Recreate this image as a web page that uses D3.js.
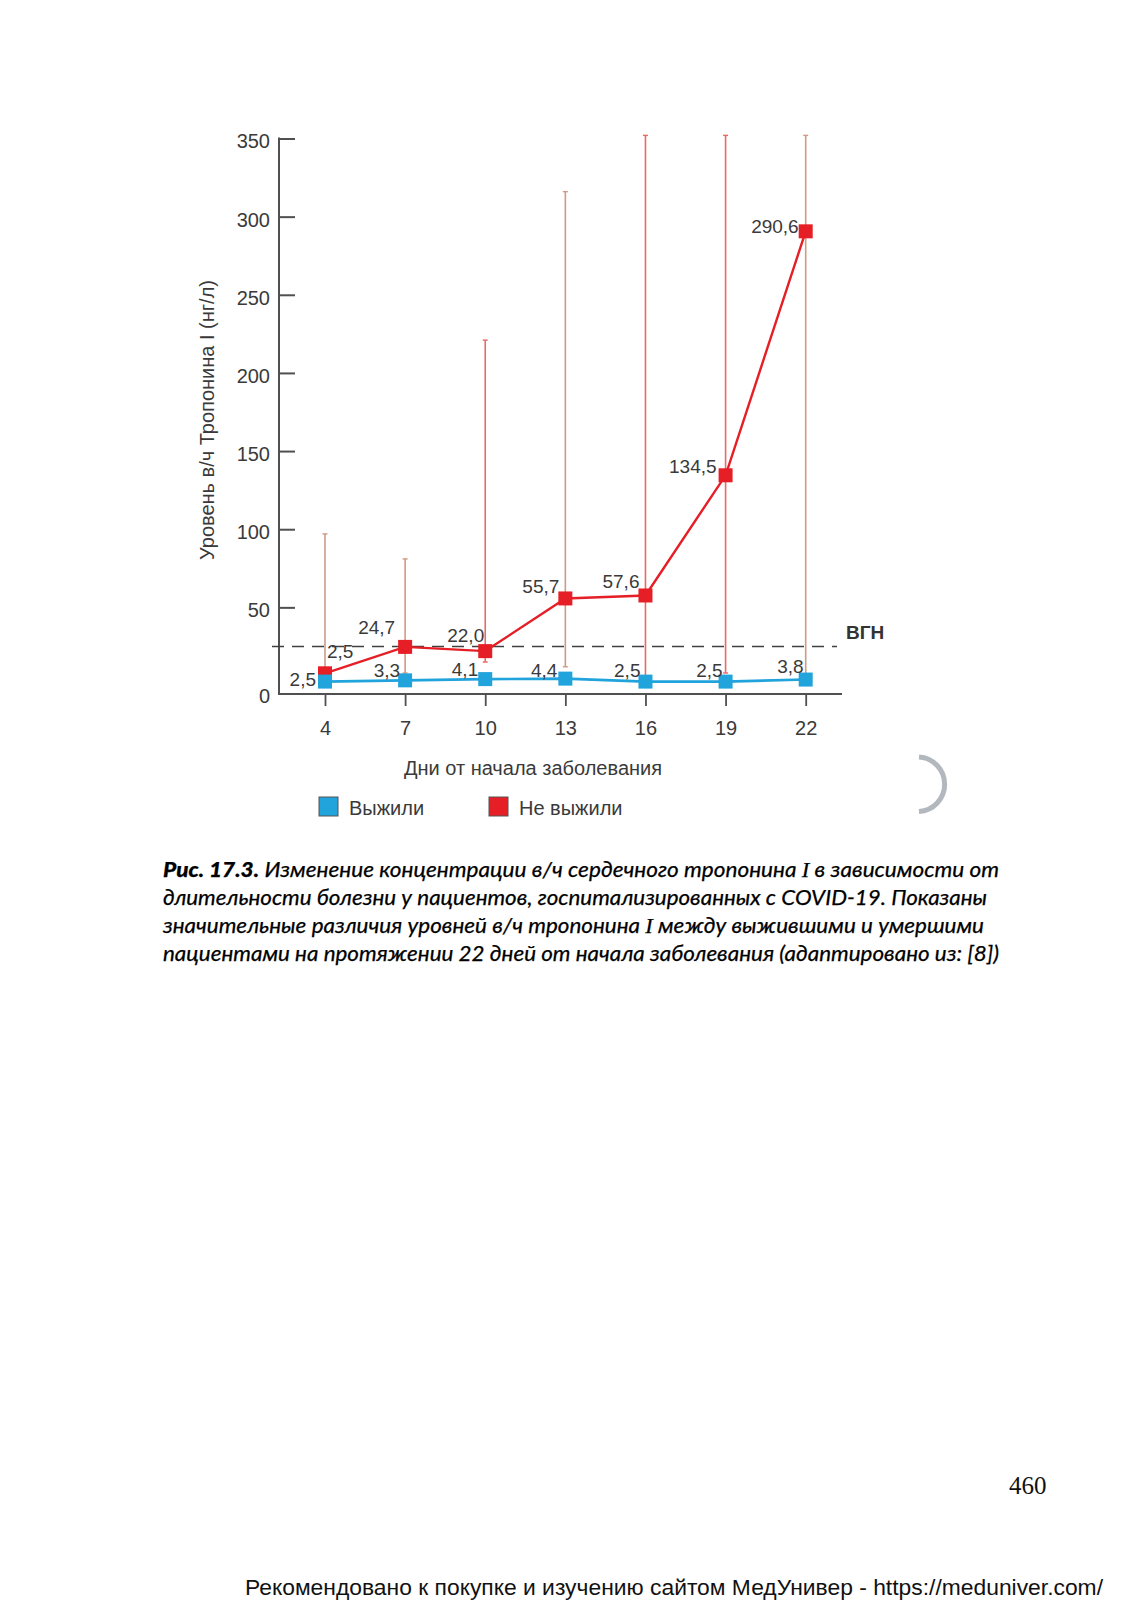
<!DOCTYPE html>
<html>
<head>
<meta charset="utf-8">
<script src="https://cdn.jsdelivr.net/npm/d3@7"></script>
<style>
  html, body { margin: 0; padding: 0; background: #ffffff; }
  svg { display: block; }
</style>
</head>
<body>
<svg id="chart" width="1132" height="1600"></svg>
<script>
// ---------------- DATA ----------------
const days = [4, 7, 10, 13, 16, 19, 22];
const survived = [2.5, 3.3, 4.1, 4.4, 2.5, 2.5, 3.8];
const died = [7.8, 24.7, 22.0, 55.7, 57.6, 134.5, 290.6];
const survivedLabels = ["2,5", "3,3", "4,1", "4,4", "2,5", "2,5", "3,8"];
const diedLabels = ["2,5", "24,7", "22,0", "55,7", "57,6", "134,5", "290,6"];
const diedErrLow = [7.8, 8, 15, 12, 5, 8, 5];
const diedErrHigh = [97, 81, 221, 316, 352, 352, 352];
const yTickValues = [0, 50, 100, 150, 200, 250, 300, 350];
const ulnValue = 25;
const ulnLabel = "ВГН";
const xTitle = "Дни от начала заболевания";
const yTitle = "Уровень в/ч Тропонина I (нг/л)";
const seriesNames = ["Выжили", "Не выжили"];

// ---------------- LAYOUT ----------------
const svg = d3.select("#chart");
svg.append("rect").attr("width", 1132).attr("height", 1600).attr("fill", "#fff");

const FONT = "'Liberation Sans', Arial, Helvetica, sans-serif";
const TXT = "#3a3a3a";
const AXIS = "#505050";
const RED = "#e61e25";
const BLUE = "#21a3dc";
const ERR_RED = "#e86a66";
const ERR_TAN = "#cf9a86";

const axisX0 = 279, axisXEnd = 842, axisLineY = 694;
const x = d3.scaleLinear().domain([4, 22]).range([325, 805.7]);
const y = d3.scaleLinear().domain([0, 350]).range([685.5, 138.5]);

const g = svg.append("g");

// error bars (behind)
const errColorIdx = [ERR_TAN, ERR_TAN, ERR_RED, ERR_TAN, ERR_RED, ERR_RED, ERR_TAN];
const eb = g.append("g");
days.forEach((d, i) => {
  eb.append("line")
    .attr("x1", x(d)).attr("x2", x(d))
    .attr("y1", y(diedErrLow[i])).attr("y2", y(diedErrHigh[i]))
    .attr("stroke", errColorIdx[i]).attr("stroke-width", 1.6);
  eb.append("line")
    .attr("x1", x(d) - 2.5).attr("x2", x(d) + 2.5)
    .attr("y1", y(diedErrHigh[i])).attr("y2", y(diedErrHigh[i]))
    .attr("stroke", errColorIdx[i]).attr("stroke-width", 1.4);
  eb.append("line")
    .attr("x1", x(d) - 2.5).attr("x2", x(d) + 2.5)
    .attr("y1", y(diedErrLow[i])).attr("y2", y(diedErrLow[i]))
    .attr("stroke", errColorIdx[i]).attr("stroke-width", 1.4);
});

// Y axis
const yAxis = d3.axisLeft(y).tickValues(yTickValues).tickSize(-16).tickPadding(9).tickSizeOuter(0);
const yg = g.append("g").attr("transform", `translate(${axisX0},0)`).call(yAxis);
yg.select(".domain").remove();
yg.selectAll(".tick line").attr("stroke", AXIS).attr("stroke-width", 2);
yg.selectAll(".tick text").attr("font-family", FONT).attr("font-size", 20).attr("fill", TXT).attr("y", 3);
yg.selectAll(".tick").filter(v => v === 0).each(function () {
  d3.select(this).select("line").remove();
  d3.select(this).select("text").attr("y", axisLineY - y(0) + 2);
});
g.append("line").attr("x1", axisX0).attr("x2", axisX0)
  .attr("y1", y(350) - 1).attr("y2", axisLineY + 1)
  .attr("stroke", AXIS).attr("stroke-width", 2);

// X axis
const xAxis = d3.axisBottom(x).tickValues(days).tickSize(12).tickPadding(15).tickSizeOuter(0)
  .tickFormat(d3.format("d"));
const xg = g.append("g").attr("transform", `translate(0,${axisLineY})`).call(xAxis);
xg.select(".domain").remove();
xg.selectAll(".tick line").attr("stroke", AXIS).attr("stroke-width", 1.8);
xg.selectAll(".tick text").attr("font-family", FONT).attr("font-size", 20).attr("fill", TXT);
g.append("line").attr("x1", axisX0).attr("x2", axisXEnd)
  .attr("y1", axisLineY).attr("y2", axisLineY)
  .attr("stroke", AXIS).attr("stroke-width", 2);

// ULN dashed line
g.append("line").attr("x1", 272).attr("x2", 837)
  .attr("y1", y(ulnValue)).attr("y2", y(ulnValue))
  .attr("stroke", "#404040").attr("stroke-width", 1.6)
  .attr("stroke-dasharray", "12,8");
g.append("text").attr("x", 846).attr("y", y(ulnValue) - 7)
  .attr("font-family", FONT).attr("font-weight", "bold").attr("font-size", 19)
  .attr("fill", "#333").text(ulnLabel);

// Died line + markers
const line = d3.line().x((d, i) => x(days[i])).y(d => y(d));
g.append("path").datum(died).attr("d", line)
  .attr("fill", "none").attr("stroke", RED).attr("stroke-width", 2.4);
g.append("g").selectAll("rect").data(died).join("rect")
  .attr("x", (d, i) => x(days[i]) - 7).attr("y", d => y(d) - 7)
  .attr("width", 14).attr("height", 14).attr("fill", RED);

// Survived line + markers
g.append("path").datum(survived).attr("d", line)
  .attr("fill", "none").attr("stroke", BLUE).attr("stroke-width", 2.6);
g.append("g").selectAll("rect").data(survived).join("rect")
  .attr("x", (d, i) => x(days[i]) - 7).attr("y", d => y(d) - 7)
  .attr("width", 14).attr("height", 14).attr("fill", BLUE);

// value labels (layout nudges: dx, dy-of-text-centre, anchor)
const redNudge = [[2, -22, "start"], [-10, -20, "end"], [-1, -16, "end"], [-6, -12, "end"],
                  [-6, -14, "end"], [-9, -9, "end"], [-7, -5, "end"]];
const blueNudge = [[-9, -3], [-5, -10], [-7, -10], [-8, -9], [-5, -12], [-3, -12], [-2, -14]];
g.append("g").selectAll("text").data(died).join("text")
  .attr("x", (d, i) => x(days[i]) + redNudge[i][0])
  .attr("y", (d, i) => y(d) + redNudge[i][1] + 7)
  .attr("text-anchor", (d, i) => redNudge[i][2])
  .attr("font-family", FONT).attr("font-size", 19).attr("fill", TXT)
  .text((d, i) => diedLabels[i]);
g.append("g").selectAll("text").data(survived).join("text")
  .attr("x", (d, i) => x(days[i]) + blueNudge[i][0])
  .attr("y", (d, i) => y(d) + blueNudge[i][1] + 7)
  .attr("text-anchor", "end")
  .attr("font-family", FONT).attr("font-size", 19).attr("fill", TXT)
  .text((d, i) => survivedLabels[i]);

// axis titles
g.append("text").attr("x", 533).attr("y", 775).attr("text-anchor", "middle")
  .attr("font-family", FONT).attr("font-size", 20).attr("fill", TXT).text(xTitle);
g.append("text").attr("transform", "translate(214,420) rotate(-90)").attr("text-anchor", "middle")
  .attr("font-family", FONT).attr("font-size", 20).attr("fill", TXT).text(yTitle);

// legend
const legend = g.append("g");
const legItems = [{name: seriesNames[0], color: BLUE, x: 319}, {name: seriesNames[1], color: RED, x: 489}];
legItems.forEach(it => {
  legend.append("rect").attr("x", it.x).attr("y", 797).attr("width", 19).attr("height", 19)
    .attr("fill", it.color).attr("stroke", "#555").attr("stroke-width", 1);
  legend.append("text").attr("x", it.x + 30).attr("y", 815)
    .attr("font-family", FONT).attr("font-size", 20).attr("fill", TXT).text(it.name);
});

// decorative arc at right
g.append("path").attr("d", "M 919 757 A 27.3 27.3 0 0 1 919 811.5")
  .attr("fill", "none").attr("stroke", "#b3b7be").attr("stroke-width", 5);

// caption
const CAP = "Lato, 'Open Sans', sans-serif";
const capLines = [
  [["Рис. 17.3.", "b"], [" Изменение концентрации в/ч сердечного тропонина ", ""], ["I", "s"], [" в зависимости от", ""]],
  [["длительности болезни у пациентов, госпитализированных с COVID-19. Показаны", ""]],
  [["значительные различия уровней в/ч тропонина ", ""], ["I", "s"], [" между выжившими и умершими", ""]],
  [["пациентами на протяжении 22 дней от начала заболевания (адаптировано из: [8])", ""]]
];
const capWidths = [836, 824, 821, 836];
const capBase = [877, 905, 933, 961];
capLines.forEach((ln, li) => {
  const t = svg.append("text").attr("x", 163).attr("y", capBase[li])
    .attr("font-family", CAP).attr("font-style", "italic").attr("font-size", 21.5)
    .attr("fill", "#000").attr("stroke", "#000").attr("stroke-width", 0.25)
    .attr("textLength", capWidths[li]).attr("lengthAdjust", "spacingAndGlyphs");
  ln.forEach(([s, k]) => {
    const ts = t.append("tspan").text(s);
    if (k === "b") ts.attr("font-weight", "900");
    if (k === "s") ts.attr("font-family", "'Liberation Serif', serif");
  });
});

// page number
svg.append("text").attr("x", 1009).attr("y", 1494)
  .attr("font-family", "'Liberation Serif', 'Times New Roman', serif").attr("font-size", 25)
  .attr("fill", "#111").text("460");

// footer
svg.append("text").attr("x", 245).attr("y", 1595)
  .attr("font-family", FONT).attr("font-size", 22).attr("fill", "#111")
  .attr("textLength", 858).attr("lengthAdjust", "spacingAndGlyphs")
  .text("Рекомендовано к покупке и изучению сайтом МедУнивер - https://meduniver.com/");
</script>
</body>
</html>
